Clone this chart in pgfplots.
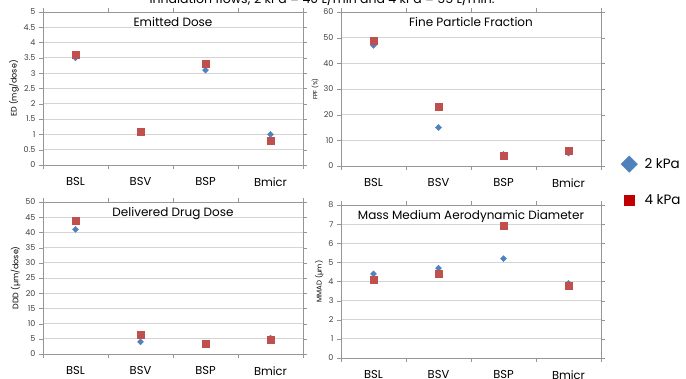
\documentclass[border=0pt]{standalone}
\usepackage{fontspec}
\setmainfont{Poppins}
\usepackage{pgfplots}
\pgfplotsset{compat=1.18}
\definecolor{ser1}{HTML}{4F81BD}
\definecolor{ser2}{HTML}{C0504D}
\definecolor{leg2}{HTML}{C00000}
\definecolor{gridc}{HTML}{D4D4D4}
\definecolor{axc}{HTML}{969696}
\pgfplotsset{
 panel/.style={
  scale only axis, width=260pt,
  xmin=0.5,xmax=4.5,
  xtick={1,2,3,4}, xticklabels={BSL,BSV,BSP,Bmicr},
  major x tick style={draw=none},
  minor xtick={0.5,1.5,2.5,3.5,4.5},
  tick align=outside,
  minor tick length=4pt, major tick length=4pt,
  ymajorgrids, grid style={gridc, line width=0.9pt},
  axis line style={axc},
  tick style={axc},
  xticklabel style={font=\fontsize{11.5}{12}\selectfont, yshift=-5pt},
  yticklabel style={font=\fontsize{8}{9}\selectfont, text=black!75},
  /pgf/number format/assume math mode=true,
  title style={at={(0.5,1)}, anchor=north, yshift=-7.5pt, font=\fontsize{12}{14}\selectfont},
 },
 s1/.style={only marks, mark=square*, mark options={rotate=45}, mark size=2.1pt, color=ser1},
 s2/.style={only marks, mark=square*, mark size=3.5pt, color=ser2},
}
\begin{document}
\begin{tikzpicture}
\useasboundingbox (0,0) rectangle (686pt,378pt);
\node[anchor=base, font=\fontsize{12.5}{14}\selectfont] at (322pt,374pt) {Inhalation flows; 2 kPa = 40 L/min and 4 kPa = 55 L/min.};
% Panel 1: Emitted Dose
\begin{axis}[panel, at={(43pt,213pt)}, anchor=south west, height=153pt,
  ymin=0, ymax=5, ytick={0,0.5,...,5},
  yticklabel style={/pgf/number format/.cd, fixed, precision=1},
  title={Emitted Dose},
  ylabel={ED (mg/dose)}, ylabel style={font=\fontsize{8}{9}\selectfont, yshift=-2pt}]
\addplot[s1] coordinates {(1,3.5) (2,1.1) (3,3.1) (4,1.0)};
\addplot[s2] coordinates {(1,3.6) (2,1.1) (3,3.3) (4,0.8)};
\end{axis}
% Panel 2: FPF
\begin{axis}[panel, at={(341pt,212pt)}, anchor=south west, height=154pt,
  ymin=0, ymax=60, ytick={0,10,...,60},
  title={Fine Particle Fraction},
  ylabel={FPF (\%)}, ylabel style={font=\fontsize{6}{7}\selectfont, yshift=-2pt},
  legend style={at={(1.065,0.08)}, anchor=north west, draw=none, fill=none,
    font=\fontsize{13.5}{15}\selectfont, row sep=20pt}, legend cell align=left]
\addplot[s1, forget plot] coordinates {(1,47) (2,15) (3,4.5) (4,5)};
\addplot[s2, forget plot] coordinates {(1,49) (2,23) (3,4) (4,5.8)};
\addlegendimage{only marks, mark=square*, mark options={rotate=45}, mark size=5.8pt, color=ser1}
\addlegendentry{\hspace{5pt}2 kPa}
\addlegendimage{only marks, mark=square*, mark size=5pt, color=leg2}
\addlegendentry{\hspace{5pt}4 kPa}
\end{axis}
% Panel 3: DDD
\begin{axis}[panel, at={(43pt,24pt)}, anchor=south west, height=152pt,
  ymin=0, ymax=50, ytick={0,5,...,50},
  title={Delivered Drug Dose},
  ylabel={DDD (µm/dose)}, ylabel style={font=\fontsize{8}{9}\selectfont, yshift=-2pt}]
\addplot[s1] coordinates {(1,41) (2,4) (3,3.3) (4,5.2)};
\addplot[s2] coordinates {(1,44) (2,6.3) (3,3.3) (4,4.6)};
\end{axis}
% Panel 4: MMAD
\begin{axis}[panel, at={(341pt,20pt)}, anchor=south west, height=153pt,
  ymin=0, ymax=8, ytick={0,1,...,8},
  title={Mass Medium Aerodynamic Diameter},
  ylabel={MMAD (µm)}, ylabel style={font=\fontsize{7}{8}\selectfont, yshift=-2pt}]
\addplot[s1] coordinates {(1,4.4) (2,4.7) (3,5.2) (4,3.9)};
\addplot[s2] coordinates {(1,4.1) (2,4.4) (3,6.9) (4,3.8)};
\end{axis}
\end{tikzpicture}
\end{document}
